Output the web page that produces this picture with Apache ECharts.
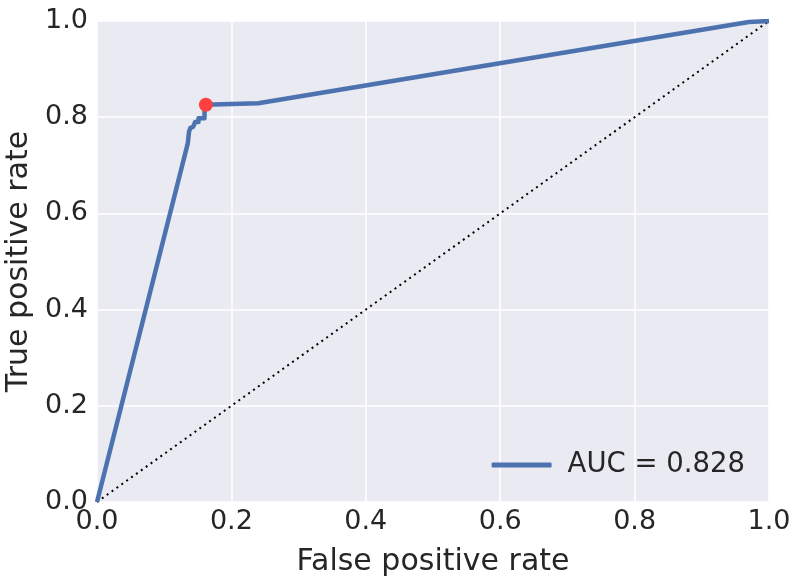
<!DOCTYPE html>
<html><head><meta charset="utf-8">
<script src="https://cdn.jsdelivr.net/npm/echarts@6/dist/echarts.min.js"></script>
<style>html,body{margin:0;padding:0;background:#fff}#c{width:800px;height:585px}</style>
</head><body><div id="c"></div>
<script>
const fpr = [0, 0.135, 0.137, 0.139, 0.143, 0.146, 0.151, 0.151, 0.160, 0.160, 0.162, 0.240, 0.970, 1.0];
const tpr = [0, 0.745, 0.770, 0.778, 0.780, 0.790, 0.790, 0.798, 0.798, 0.826, 0.826, 0.829, 0.998, 1.0];
const chanceX = [0, 1];
const chanceY = [0, 1];
const bestPoint = [0.162, 0.826];
const legendLabel = 'AUC = 0.828';
const xTitle = 'False positive rate';
const yTitle = 'True positive rate';

const font = 'DejaVu Sans';
const chart = echarts.init(document.getElementById('c'));
chart.setOption({
  animation: false,
  backgroundColor: '#ffffff',
  textStyle: {fontFamily: font},
  grid: {left: 97, right: 31, top: 21, bottom: 83, backgroundColor: '#eaeaf2', show: true, borderWidth: 0,
         containLabel: false, outerBoundsMode: 'none'},
  legend: {
    data: [legendLabel], right: 50, top: 446, icon: 'roundRect', itemWidth: 60, itemHeight: 5, itemGap: 10,
    textStyle: {fontFamily: font, fontSize: 27.5, color: '#262626', padding: [0, 0, 0, 11]}
  },
  xAxis: {
    type: 'value', min: 0, max: 1, interval: 0.2,
    name: xTitle, nameLocation: 'middle', nameGap: 45,
    nameTextStyle: {fontFamily: font, fontSize: 30, color: '#262626'},
    axisLine: {show: false}, axisTick: {show: false},
    axisLabel: {fontFamily: font, fontSize: 27, color: '#262626', margin: 6, formatter: v => v.toFixed(1)},
    splitLine: {show: true, lineStyle: {color: '#ffffff', width: 1.5}}
  },
  yAxis: {
    type: 'value', min: 0, max: 1, interval: 0.2,
    name: yTitle, nameLocation: 'middle', nameGap: 51,
    nameTextStyle: {fontFamily: font, fontSize: 30, color: '#262626'},
    axisLine: {show: false}, axisTick: {show: false},
    axisLabel: {fontFamily: font, fontSize: 27, color: '#262626', margin: 9, formatter: v => v.toFixed(1)},
    splitLine: {show: true, lineStyle: {color: '#ffffff', width: 1.5}}
  },
  series: [
    {
      type: 'line', name: 'chance', data: chanceX.map((x, i) => [x, chanceY[i]]),
      showSymbol: false, lineStyle: {color: '#000000', width: 2, type: [2, 4]}, z: 2
    },
    {
      type: 'line', name: legendLabel, data: fpr.map((x, i) => [x, tpr[i]]),
      showSymbol: false, itemStyle: {color: '#4c72b0'}, lineStyle: {color: '#4c72b0', width: 4.5, join: 'round'}, z: 3
    },
    {
      type: 'scatter', name: 'best', data: [bestPoint], symbolSize: 14,
      itemStyle: {color: '#ff4040', opacity: 1}, z: 4
    }
  ]
});
</script></body></html>
